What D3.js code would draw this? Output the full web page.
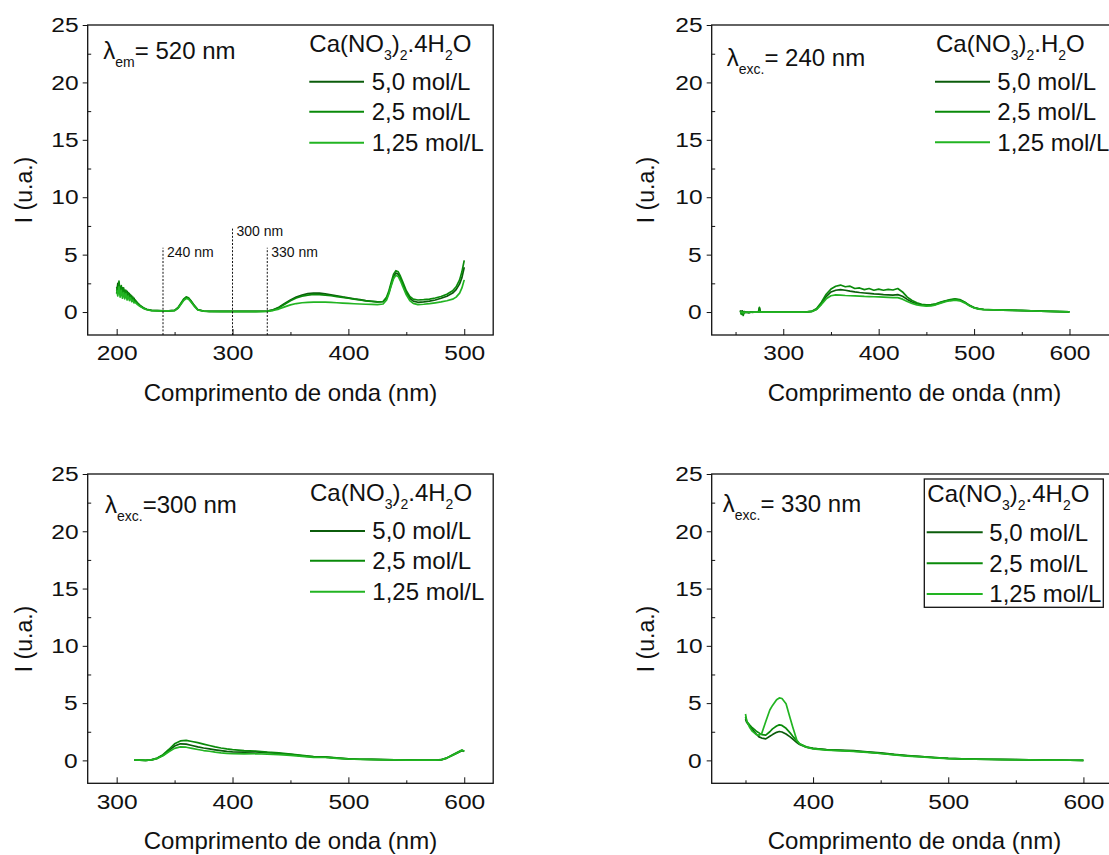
<!DOCTYPE html>
<html>
<head>
<meta charset="utf-8">
<script src="https://cdn.jsdelivr.net/npm/d3@7"></script>
<style>
  html, body { margin: 0; padding: 0; background: #fff; }
  svg { display: block; font-family: "Liberation Sans", Arial, Helvetica, sans-serif; }
  .tick text { transform-box: fill-box; transform-origin: center; transform: scaleX(1.17); }
</style>
</head>
<body>
<svg id="chart" width="1109" height="855"></svg>
<script>
// ---------- data ----------
const concLabels = ["5,0 mol/L", "2,5 mol/L", "1,25 mol/L"];
const yTicks = [0, 5, 10, 15, 20, 25];
const yMinor = [2.5, 7.5, 12.5, 17.5, 22.5];

// Excitation spectrum, emission fixed at 520 nm
const p1Wavelength = [200,201,202,203,204,205,206,207,208,209,210,211,212,213,214,215,216,218,220,223,226,230,235,240,245,250,253,256,258,260,262,264,267,270,275,280,290,300,310,320,330,335,340,345,350,355,360,365,370,375,380,385,390,395,400,405,410,415,420,425,430,433,435,437,439,441,443,445,447,450,453,456,460,465,470,475,480,485,490,493,496,498,500];
const p1Conc50 = [1.6,2.5,1.9,2.2,1.5,2.1,1.7,1.9,1.4,1.8,1.3,1.6,1.2,1.4,1.0,1.2,0.9,0.75,0.55,0.35,0.22,0.14,0.12,0.1,0.1,0.14,0.35,0.8,1.1,1.25,1.2,0.95,0.55,0.2,0.08,0.06,0.05,0.05,0.05,0.05,0.08,0.2,0.42,0.75,1.05,1.3,1.48,1.6,1.66,1.64,1.58,1.5,1.42,1.32,1.24,1.15,1.08,1.0,0.94,0.88,0.9,1.2,1.7,2.4,3.1,3.4,3.3,2.9,2.4,1.7,1.2,0.95,0.85,0.88,0.95,1.05,1.2,1.38,1.65,1.95,2.45,3.0,3.9];
const p1Conc25 = [2.2,1.7,2.7,1.6,2.3,1.5,2.1,1.4,1.9,1.3,1.7,1.2,1.5,1.1,1.3,0.95,1.05,0.8,0.6,0.38,0.24,0.15,0.12,0.1,0.1,0.15,0.4,0.85,1.15,1.32,1.25,1.0,0.58,0.22,0.09,0.06,0.05,0.05,0.05,0.05,0.08,0.18,0.38,0.68,0.98,1.22,1.38,1.48,1.53,1.52,1.48,1.42,1.35,1.27,1.2,1.12,1.05,0.98,0.93,0.88,0.92,1.3,1.85,2.6,3.3,3.6,3.5,3.1,2.6,1.85,1.35,1.12,1.05,1.08,1.13,1.22,1.35,1.55,1.85,2.2,2.8,3.5,4.5];
const p1Conc125 = [1.9,1.4,2.2,1.3,1.9,1.2,1.7,1.15,1.6,1.05,1.4,1.0,1.25,0.9,1.05,0.8,0.85,0.65,0.5,0.32,0.2,0.13,0.1,0.1,0.1,0.12,0.32,0.75,1.02,1.18,1.12,0.9,0.5,0.18,0.07,0.05,0.04,0.04,0.04,0.04,0.06,0.13,0.26,0.45,0.62,0.74,0.81,0.85,0.87,0.87,0.86,0.84,0.81,0.78,0.75,0.72,0.7,0.68,0.66,0.65,0.7,1.05,1.6,2.3,2.9,3.2,3.1,2.7,2.2,1.5,1.0,0.75,0.65,0.68,0.73,0.8,0.88,0.98,1.12,1.3,1.65,2.1,2.8];
const p1MarkerNm = [240, 300, 330];
const p1MarkerTop = [5.6, 7.4, 5.6];
const p1MarkerText = ["240 nm", "300 nm", "330 nm"];

// Emission spectrum, excitation 240 nm
const p2Wavelength = [255,256,257,258,259,260,262,264,266,268,270,272,274,275,276,278,280,290,300,310,320,325,330,335,340,345,350,355,360,365,370,375,380,385,390,395,400,405,410,415,420,425,430,435,440,445,450,455,460,465,470,475,480,485,490,495,500,505,510,520,530,540,550,560,570,580,590,600];
const p2Conc50 = [0.15,-0.1,0.1,-0.2,0.05,-0.05,0.0,-0.08,0.02,-0.03,0.0,-0.02,0.0,0.35,0.0,-0.02,0.0,0.0,0.0,0.0,0.0,0.02,0.05,0.25,0.75,1.35,1.75,1.9,1.95,1.9,1.82,1.75,1.7,1.66,1.62,1.58,1.56,1.52,1.5,1.48,1.52,1.38,1.1,0.88,0.72,0.62,0.58,0.6,0.68,0.82,0.95,1.05,1.1,1.05,0.85,0.58,0.38,0.27,0.22,0.19,0.17,0.15,0.13,0.1,0.08,0.05,0.03,0.02];
const p2Conc25 = [0.1,-0.2,0.05,-0.3,0.0,0.02,-0.05,0.0,-0.04,0.0,-0.02,0.0,-0.02,0.4,-0.02,0.0,0.0,0.0,0.0,0.0,0.0,0.02,0.06,0.3,0.85,1.55,2.0,2.25,2.35,2.2,2.25,2.05,2.1,1.95,2.05,1.9,2.0,1.9,1.98,1.92,2.05,1.75,1.3,1.0,0.8,0.68,0.63,0.64,0.72,0.86,0.98,1.08,1.14,1.08,0.88,0.6,0.4,0.28,0.23,0.2,0.18,0.16,0.14,0.11,0.08,0.06,0.04,0.02];
const p2Conc125 = [0.05,-0.05,0.0,-0.1,0.0,-0.02,0.0,-0.02,0.0,-0.02,0.0,-0.01,0.0,0.05,0.0,0.0,0.0,0.0,0.0,0.0,0.0,0.02,0.05,0.22,0.65,1.15,1.42,1.5,1.47,1.44,1.42,1.4,1.38,1.36,1.35,1.33,1.32,1.3,1.28,1.26,1.26,1.12,0.92,0.75,0.62,0.55,0.52,0.54,0.63,0.78,0.9,0.98,1.03,0.98,0.8,0.55,0.36,0.26,0.21,0.18,0.16,0.14,0.12,0.1,0.07,0.05,0.03,0.01];

// Emission spectrum, excitation 300 nm
const p3Wavelength = [315,320,325,330,335,340,345,350,355,360,365,370,375,380,385,390,395,400,410,420,430,440,450,460,470,480,490,500,510,520,530,540,550,560,570,575,580,585,590,595,598,600];
const p3Conc50 = [0.05,0.02,0.0,0.04,0.18,0.45,0.85,1.25,1.45,1.42,1.3,1.18,1.08,1.0,0.92,0.85,0.78,0.74,0.72,0.74,0.68,0.6,0.52,0.4,0.3,0.28,0.2,0.13,0.1,0.08,0.06,0.05,0.04,0.03,0.02,0.02,0.05,0.2,0.45,0.7,0.85,0.8];
const p3Conc25 = [0.05,0.02,0.0,0.05,0.2,0.5,0.95,1.45,1.7,1.75,1.65,1.55,1.42,1.3,1.18,1.08,1.0,0.94,0.86,0.82,0.72,0.66,0.56,0.44,0.33,0.3,0.22,0.14,0.1,0.08,0.06,0.05,0.04,0.03,0.02,0.02,0.06,0.22,0.5,0.75,0.9,0.78];
const p3Conc125 = [0.04,0.02,0.0,0.04,0.16,0.4,0.75,1.05,1.18,1.15,1.05,0.95,0.86,0.8,0.72,0.66,0.62,0.58,0.56,0.58,0.55,0.5,0.44,0.35,0.27,0.25,0.18,0.12,0.09,0.07,0.05,0.04,0.03,0.02,0.02,0.02,0.05,0.2,0.45,0.72,0.88,0.82];

// Emission spectrum, excitation 330 nm
const p4Wavelength = [350,351,353,355,358,360,362,365,368,370,373,375,377,380,383,385,388,390,395,400,410,420,430,440,450,460,470,480,490,500,510,520,530,540,550,560,570,580,590,600];
const p4Conc50 = [3.6,3.3,3.0,2.7,2.3,2.05,1.95,1.88,2.1,2.25,2.45,2.52,2.48,2.3,2.05,1.85,1.55,1.38,1.15,1.05,0.95,0.9,0.85,0.75,0.65,0.52,0.42,0.34,0.25,0.18,0.14,0.12,0.1,0.08,0.06,0.05,0.04,0.02,0.01,0.0];
const p4Conc25 = [3.8,3.4,3.1,2.85,2.55,2.4,2.25,2.2,2.5,2.75,3.0,3.1,3.05,2.8,2.4,2.1,1.7,1.45,1.18,1.05,0.92,0.86,0.8,0.72,0.62,0.5,0.4,0.32,0.24,0.17,0.13,0.11,0.09,0.07,0.06,0.05,0.03,0.02,0.01,0.0];
const p4Conc125 = [4.05,3.4,2.9,2.55,2.25,2.2,2.35,3.4,4.4,4.8,5.3,5.45,5.4,4.95,3.7,2.9,1.75,1.45,1.15,1.0,0.9,0.85,0.78,0.7,0.6,0.48,0.38,0.3,0.22,0.15,0.12,0.1,0.08,0.06,0.05,0.04,0.03,0.02,0.01,0.0];

// ---------- styling / layout ----------
const colors = ["#0b5c0b", "#0a8a0a", "#22b422"];
const svg = d3.select("#chart");
const FONT_TICK = 21, FONT_TEXT = 24, FONT_SUB = 14;

const panels = [
  { left: 87.7, top: 25, w: 405.5, h: 310, xDomain: [175, 525],
    xTicks: [200, 300, 400, 500], xMinor: [250, 350, 450],
    x: p1Wavelength, series: [p1Conc50, p1Conc25, p1Conc125],
    note: { dx: 15.6, dy: 34.3, sub: "em", rest: "= 520 nm" },
    title: ["Ca(NO", "3", ")", "2", ".4H", "2", "O"],
    leg: { tx: 221.6, ty: 27.3, lx0: 221.6, lx1: 276.3, ly: [56.7, 86.7, 117.7], textX: 284 },
    yTitle: { x: 32, y: 190 } },
  { left: 711.7, top: 25, w: 405.5, h: 310, xDomain: [225, 650],
    xTicks: [300, 400, 500, 600], xMinor: [250, 350, 450, 550],
    x: p2Wavelength, series: [p2Conc50, p2Conc25, p2Conc125],
    note: { dx: 15, dy: 41, sub: "exc.", rest: "= 240 nm" },
    title: ["Ca(NO", "3", ")", "2", ".H", "2", "O"],
    leg: { tx: 224.3, ty: 27.3, lx0: 223.3, lx1: 278.3, ly: [56.7, 86.7, 117.3], textX: 285.6 },
    yTitle: { x: 653.5, y: 190 } },
  { left: 87.7, top: 474, w: 405.5, h: 309.3, xDomain: [275, 625],
    xTicks: [300, 400, 500, 600], xMinor: [350, 450, 550],
    x: p3Wavelength, series: [p3Conc50, p3Conc25, p3Conc125],
    note: { dx: 17.3, dy: 39.3, sub: "exc.", rest: "=300 nm" },
    title: ["Ca(NO", "3", ")", "2", ".4H", "2", "O"],
    leg: { tx: 222.3, ty: 27, lx0: 222.3, lx1: 277.3, ly: [57, 86.7, 117.7], textX: 284.6 },
    yTitle: { x: 32, y: 639 } },
  { left: 711.7, top: 474, w: 405.5, h: 309.3, xDomain: [325, 625],
    xTicks: [400, 500, 600], xMinor: [350, 450, 550],
    x: p4Wavelength, series: [p4Conc50, p4Conc25, p4Conc125],
    note: { dx: 11, dy: 38.3, sub: "exc.", rest: "= 330 nm" },
    title: ["Ca(NO", "3", ")", "2", ".4H", "2", "O"],
    leg: { tx: 215.6, ty: 28.3, lx0: 215, lx1: 271, ly: [58.3, 89.3, 120], textX: 277.6,
           box: { x0: 212.6, x1: 391.6, y0: 5, y1: 133.3 } },
    yTitle: { x: 653.5, y: 639 } }
];

// writes text made of alternating normal / subscript pieces
function subText(sel, x, y, pieces, size, subSize, shift) {
  const t = sel.append("text").attr("x", x).attr("y", y)
    .attr("font-size", size).attr("fill", "#111");
  let lowered = false;
  pieces.forEach((p, i) => {
    const isSub = i % 2 === 1;
    const ts = t.append("tspan").text(p).attr("font-size", isSub ? subSize : size);
    if (isSub && !lowered) { ts.attr("dy", shift); lowered = true; }
    else if (!isSub && lowered) { ts.attr("dy", -shift); lowered = false; }
  });
  return t;
}

panels.forEach((P, idx) => {
  const g = svg.append("g").attr("transform", `translate(${P.left},${P.top})`);
  const x = d3.scaleLinear().domain(P.xDomain).range([0, P.w]);
  const y = d3.scaleLinear().domain([-2, 25]).range([P.h, 0]);

  const clipId = "clip" + idx;
  g.append("clipPath").attr("id", clipId).append("rect")
    .attr("width", P.w).attr("height", P.h);

  // y axis: major ticks outside, minor ticks inside
  const yAx = g.append("g").call(d3.axisLeft(y).tickValues(yTicks).tickSize(5).tickPadding(6));
  yAx.select(".domain").remove();
  yAx.selectAll("text").attr("font-size", FONT_TICK).attr("fill", "#111").attr("font-family", null);
  yAx.selectAll("line").attr("stroke", "#111");
  const yMin = g.append("g").call(d3.axisLeft(y).tickValues(yMinor).tickSize(-3.5).tickFormat(""));
  yMin.select(".domain").remove();
  yMin.selectAll("line").attr("stroke", "#111");

  // x axis: ticks pointing into the plot
  const xAx = g.append("g").attr("transform", `translate(0,${P.h})`)
    .call(d3.axisBottom(x).tickValues(P.xTicks).tickSize(-6).tickPadding(10.5));
  xAx.select(".domain").remove();
  xAx.selectAll("text").attr("font-size", FONT_TICK).attr("fill", "#111").attr("font-family", null);
  xAx.selectAll("line").attr("stroke", "#111");
  const xMin = g.append("g").attr("transform", `translate(0,${P.h})`)
    .call(d3.axisBottom(x).tickValues(P.xMinor).tickSize(-3).tickFormat(""));
  xMin.select(".domain").remove();
  xMin.selectAll("line").attr("stroke", "#111");

  // spectra
  const line = d3.line().x(d => x(d[0])).y(d => y(d[1]));
  const plot = g.append("g").attr("clip-path", `url(#${clipId})`);
  P.series.forEach((vals, si) => {
    const pts = P.x.map((w, i) => [w, vals[i]]);
    plot.append("path").datum(pts).attr("d", line)
      .attr("fill", "none").attr("stroke", colors[si])
      .attr("stroke-width", 1.7).attr("stroke-linejoin", "round");
  });

  // wavelength markers (first panel only)
  if (idx === 0) {
    p1MarkerNm.forEach((nm, i) => {
      g.append("line")
        .attr("x1", x(nm)).attr("x2", x(nm))
        .attr("y1", P.h).attr("y2", y(p1MarkerTop[i]))
        .attr("stroke", "#111").attr("stroke-width", 1)
        .attr("stroke-dasharray", "2,1.6");
      g.append("text").attr("x", x(nm) + 4).attr("y", y(p1MarkerTop[i]) + 9)
        .attr("font-size", 14).attr("fill", "#111").text(p1MarkerText[i]);
    });
  }

  // frame
  g.append("rect").attr("width", P.w).attr("height", P.h)
    .attr("fill", "none").attr("stroke", "#111").attr("stroke-width", 1.3);

  // excitation / emission note
  subText(g, P.note.dx, P.note.dy, ["\u03bb", P.note.sub, P.note.rest], FONT_TEXT, FONT_SUB, 8);

  // legend
  const L = P.leg;
  if (L.box) {
    g.append("rect").attr("x", L.box.x0).attr("y", L.box.y0)
      .attr("width", L.box.x1 - L.box.x0).attr("height", L.box.y1 - L.box.y0)
      .attr("fill", "#fff").attr("stroke", "#111").attr("stroke-width", 1.3);
  }
  subText(g, L.tx, L.ty, P.title, FONT_TEXT, FONT_SUB, 7.5);
  concLabels.forEach((lab, i) => {
    g.append("line").attr("x1", L.lx0).attr("x2", L.lx1)
      .attr("y1", L.ly[i]).attr("y2", L.ly[i])
      .attr("stroke", colors[i]).attr("stroke-width", 2);
    g.append("text").attr("x", L.textX).attr("y", L.ly[i] + 8.3)
      .attr("font-size", FONT_TEXT).attr("fill", "#111").text(lab);
  });

  // axis titles
  svg.append("text")
    .attr("transform", `translate(${P.yTitle.x},${P.yTitle.y}) rotate(-90)`)
    .attr("text-anchor", "middle").attr("font-size", 23).attr("fill", "#111")
    .text("I (u.a.)");
  svg.append("text")
    .attr("x", P.left + P.w / 2).attr("y", P.top + P.h + 66)
    .attr("text-anchor", "middle").attr("font-size", FONT_TEXT).attr("fill", "#111")
    .text("Comprimento de onda (nm)");
});
</script>
</body>
</html>
